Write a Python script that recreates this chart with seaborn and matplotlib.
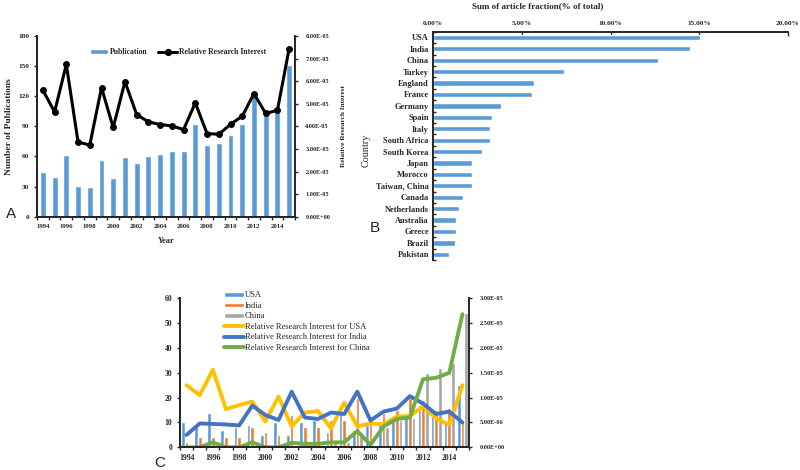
# three-panel bibliometric figure: publications, countries, top-3 trends
import numpy as np
import pandas as pd
import seaborn as sns
import matplotlib
matplotlib.use('Agg')
from matplotlib import pyplot as plt
from matplotlib.ticker import FuncFormatter, MultipleLocator, FixedLocator
from matplotlib.patches import Patch
from matplotlib.lines import Line2D

# ---- data -----------------------------------------------------------------
years = list(range(1994, 2016))
publications = [45, 40, 61, 31, 30, 56, 39, 59, 53, 60, 62,
                65, 65, 92, 71, 73, 81, 92, 120, 101, 105, 151]
interest = [5.60e-5, 4.64e-5, 6.74e-5, 3.31e-5, 3.17e-5, 5.71e-5, 3.95e-5,
            5.98e-5, 4.52e-5, 4.20e-5, 4.08e-5, 4.02e-5, 3.86e-5, 5.04e-5,
            3.68e-5, 3.65e-5, 4.09e-5, 4.45e-5, 5.45e-5, 4.57e-5, 4.71e-5,
            7.44e-5]

countries = ['USA', 'India', 'China', 'Turkey', 'England', 'France',
             'Germany', 'Spain', 'Italy', 'South Africa', 'South Korea',
             'Japan', 'Morocco', 'Taiwan, China', 'Canada', 'Netherlands',
             'Australia', 'Greece', 'Brazil', 'Pakistan']
fraction = [15.04, 14.50, 12.66, 7.38, 5.71, 5.60, 3.85, 3.34, 3.21, 3.21,
            2.76, 2.18, 2.18, 2.18, 1.67, 1.46, 1.30, 1.30, 1.24, 0.90]

usa_pubs = [10, 9, 14, 7, 8, 9, 5, 10, 5, 10, 11, 6, 15, 7, 9, 9, 12, 13, 17, 13, 10, 25]
india_pubs = [2, 4, 4, 4, 4, 8, 6, 5, 13, 8, 8, 11, 11, 20, 10, 14, 15, 20, 19, 15, 16, 10]
china_pubs = [0, 0, 1, 0, 0, 1, 0, 0, 1, 1, 1, 2, 2, 6, 1, 8, 11, 12, 30, 32, 34, 54]

usa_interest = [1.25e-5, 1.05e-5, 1.56e-5, 0.77e-5, 0.85e-5, 0.92e-5, 0.52e-5,
                1.02e-5, 0.42e-5, 0.70e-5, 0.73e-5, 0.38e-5, 0.90e-5, 0.42e-5,
                0.48e-5, 0.46e-5, 0.62e-5, 0.63e-5, 0.82e-5, 0.58e-5, 0.45e-5,
                1.25e-5]
india_interest = [0.25e-5, 0.48e-5, 0.47e-5, 0.46e-5, 0.44e-5, 0.84e-5, 0.65e-5,
                  0.55e-5, 1.12e-5, 0.60e-5, 0.57e-5, 0.70e-5, 0.67e-5, 1.12e-5,
                  0.54e-5, 0.72e-5, 0.78e-5, 1.03e-5, 0.88e-5, 0.67e-5, 0.72e-5,
                  0.50e-5]
china_interest = [0.0, 0.0, 0.10e-5, 0.0, 0.0, 0.10e-5, 0.0, 0.0, 0.09e-5,
                  0.07e-5, 0.07e-5, 0.10e-5, 0.10e-5, 0.33e-5, 0.05e-5, 0.42e-5,
                  0.57e-5, 0.60e-5, 1.37e-5, 1.40e-5, 1.50e-5, 2.68e-5]

# ---- style ----------------------------------------------------------------
sns.set_theme(style='ticks')
plt.rcParams['font.family'] = ['Liberation Serif', 'DejaVu Serif']
plt.rcParams['axes.linewidth'] = 1.4

bar_blue = '#5B9BD5'
c_bars = ['#5B9BD5', '#ED7D31', '#A5A5A5']
c_lines = ['#FFC000', '#4472C4', '#70AD47']
label_fs = 6.8
W, H = 800, 470


def rect(l, t, r, b):
    """pixel box -> figure fraction"""
    return [l / W, 1 - b / H, (r - l) / W, (b - t) / H]


def sci(v, pos):
    return '%.2E' % v


def bold_ticks(ax):
    for t in ax.get_xticklabels() + ax.get_yticklabels():
        t.set_fontweight('bold')


def year_axis(ax, size):
    ax.set_xlim(1993.5, 2015.5)
    ax.xaxis.set_major_locator(FixedLocator(years[::2]))
    ax.xaxis.set_minor_locator(FixedLocator(np.arange(1993.5, 2016, 1)))
    ax.tick_params(axis='x', which='major', length=0, pad=5, labelsize=size)
    ax.tick_params(axis='x', which='minor', length=2.5, width=1, direction='out')


fig = plt.figure(figsize=(8, 4.7), dpi=100)

# ---- panel A --------------------------------------------------------------
axA = fig.add_axes(rect(37, 36, 295, 216.7))
sns.barplot(x=years, y=publications, native_scale=True, width=0.5,
            color=bar_blue, saturation=1, ax=axA)
axA.set_ylim(0, 180)
axA.yaxis.set_major_locator(MultipleLocator(30))
axA.tick_params(axis='y', length=2.5, width=1, pad=3, labelsize=5.3)
year_axis(axA, 4.9)
bold_ticks(axA)
axA.set_xlabel('Year', fontsize=label_fs - 0.8, fontweight='bold', labelpad=6)
axA.set_ylabel('Number of Publications', fontsize=label_fs, fontweight='bold', labelpad=4)

axA2 = axA.twinx()
sns.lineplot(x=years, y=interest, color='black', linewidth=2.2, marker='o',
             markersize=4.2, markeredgecolor='black', ax=axA2)
axA2.set_ylim(0, 8e-5)
axA2.yaxis.set_major_locator(MultipleLocator(1e-5))
axA2.yaxis.set_major_formatter(FuncFormatter(sci))
axA2.tick_params(axis='y', length=2.5, width=1, pad=5, labelsize=4.5)
bold_ticks(axA2)
axA2.set_ylabel('Relative Research Interest', fontsize=5.2, fontweight='bold', labelpad=8)
for a in (axA, axA2):
    a.spines['top'].set_visible(False)
axA.spines['right'].set_visible(False)

handles = [Patch(facecolor=bar_blue),
           Line2D([], [], color='black', lw=2.2, marker='o', ms=4.2)]
axA2.legend(handles, ['Publication', 'Relative Research Interest'], ncol=2,
            loc='center', bbox_to_anchor=(0.545, 0.911), frameon=False,
            prop=dict(size=5.6, weight='bold'), handlelength=2.4,
            handleheight=0.5, columnspacing=1.4, handletextpad=0.2)

# ---- panel B --------------------------------------------------------------
axB = fig.add_axes(rect(433, 31.7, 788, 260))
sns.barplot(x=fraction, y=countries, orient='h', width=0.46, color=bar_blue,
            saturation=1, ax=axB)
axB.set_xlim(0, 20)
axB.set_ylim(19.5, -0.5)
axB.xaxis.tick_top()
axB.xaxis.set_major_locator(MultipleLocator(5))
axB.xaxis.set_major_formatter(FuncFormatter(lambda v, p: '%.2f%%' % v))
axB.tick_params(axis='x', length=3, width=1, direction='in', pad=4, labelsize=5.3)
axB.yaxis.set_minor_locator(FixedLocator(np.arange(-0.5, 20, 1)))
axB.tick_params(axis='y', which='major', length=0, pad=3, labelsize=6)
axB.tick_params(axis='y', which='minor', length=2, width=1, direction='in')
bold_ticks(axB)
axB.set_xlabel('')
axB.set_ylabel('')
axB.spines['bottom'].set_visible(False)
axB.spines['right'].set_visible(False)
fig.text(538 / W, 1 - 6 / H, 'Sum of article fraction(% of total)', fontsize=6.5,
         fontweight='bold', ha='center', va='center')
fig.text(366 / W, 1 - 150 / H, 'Country', fontsize=7.3, rotation=90,
         ha='center', va='center')

# ---- panel C --------------------------------------------------------------
top3 = ['USA', 'India', 'China']
df_pubs = pd.DataFrame({'year': years * 3,
                        'country': np.repeat(top3, len(years)),
                        'pubs': usa_pubs + india_pubs + china_pubs})
df_int = pd.DataFrame({'year': years * 3,
                       'country': np.repeat(top3, len(years)),
                       'interest': usa_interest + india_interest + china_interest})

axC = fig.add_axes(rect(180, 298.3, 469, 447.3))
sns.barplot(data=df_pubs, x='year', y='pubs', hue='country', native_scale=True,
            width=0.84, palette=c_bars, saturation=1, legend=False, ax=axC)
axC.set_ylim(0, 60)
axC.yaxis.set_major_locator(MultipleLocator(10))
axC.tick_params(axis='y', length=2.5, width=1, pad=3, labelsize=5.5)
year_axis(axC, 5.5)
bold_ticks(axC)
axC.set_xlabel('')
axC.set_ylabel('')

axC2 = axC.twinx()
sns.lineplot(data=df_int, x='year', y='interest', hue='country',
             palette=c_lines, linewidth=2.8, legend=False, ax=axC2)
axC2.set_ylim(0, 3e-5)
axC2.yaxis.set_major_locator(MultipleLocator(5e-6))
axC2.yaxis.set_major_formatter(FuncFormatter(sci))
axC2.tick_params(axis='y', length=2.5, width=1, pad=5, labelsize=4.6)
bold_ticks(axC2)
axC2.set_ylabel('')
for a in (axC, axC2):
    a.spines['top'].set_visible(False)
axC.spines['right'].set_visible(False)

handles = [Patch(facecolor=c) for c in c_bars] + \
          [Line2D([], [], color=c, lw=2.8) for c in c_lines]
labels = top3 + ['Relative Research Interest for ' + c for c in top3]
axC2.legend(handles, labels, loc='upper left', bbox_to_anchor=(0.14, 1.07),
            frameon=False, prop=dict(size=6.1), handlelength=2.4,
            handleheight=0.45, labelspacing=0.3, handletextpad=0.1,
            borderaxespad=0)

# ---- panel letters --------------------------------------------------------
for x, y, s in [(11, 214, 'A'), (375, 228, 'B'), (160, 463, 'C')]:
    fig.text(x / W, 1 - y / H, s, fontsize=11, family='Liberation Sans',
             ha='center', va='center')

fig.savefig('out.png', dpi=100)
